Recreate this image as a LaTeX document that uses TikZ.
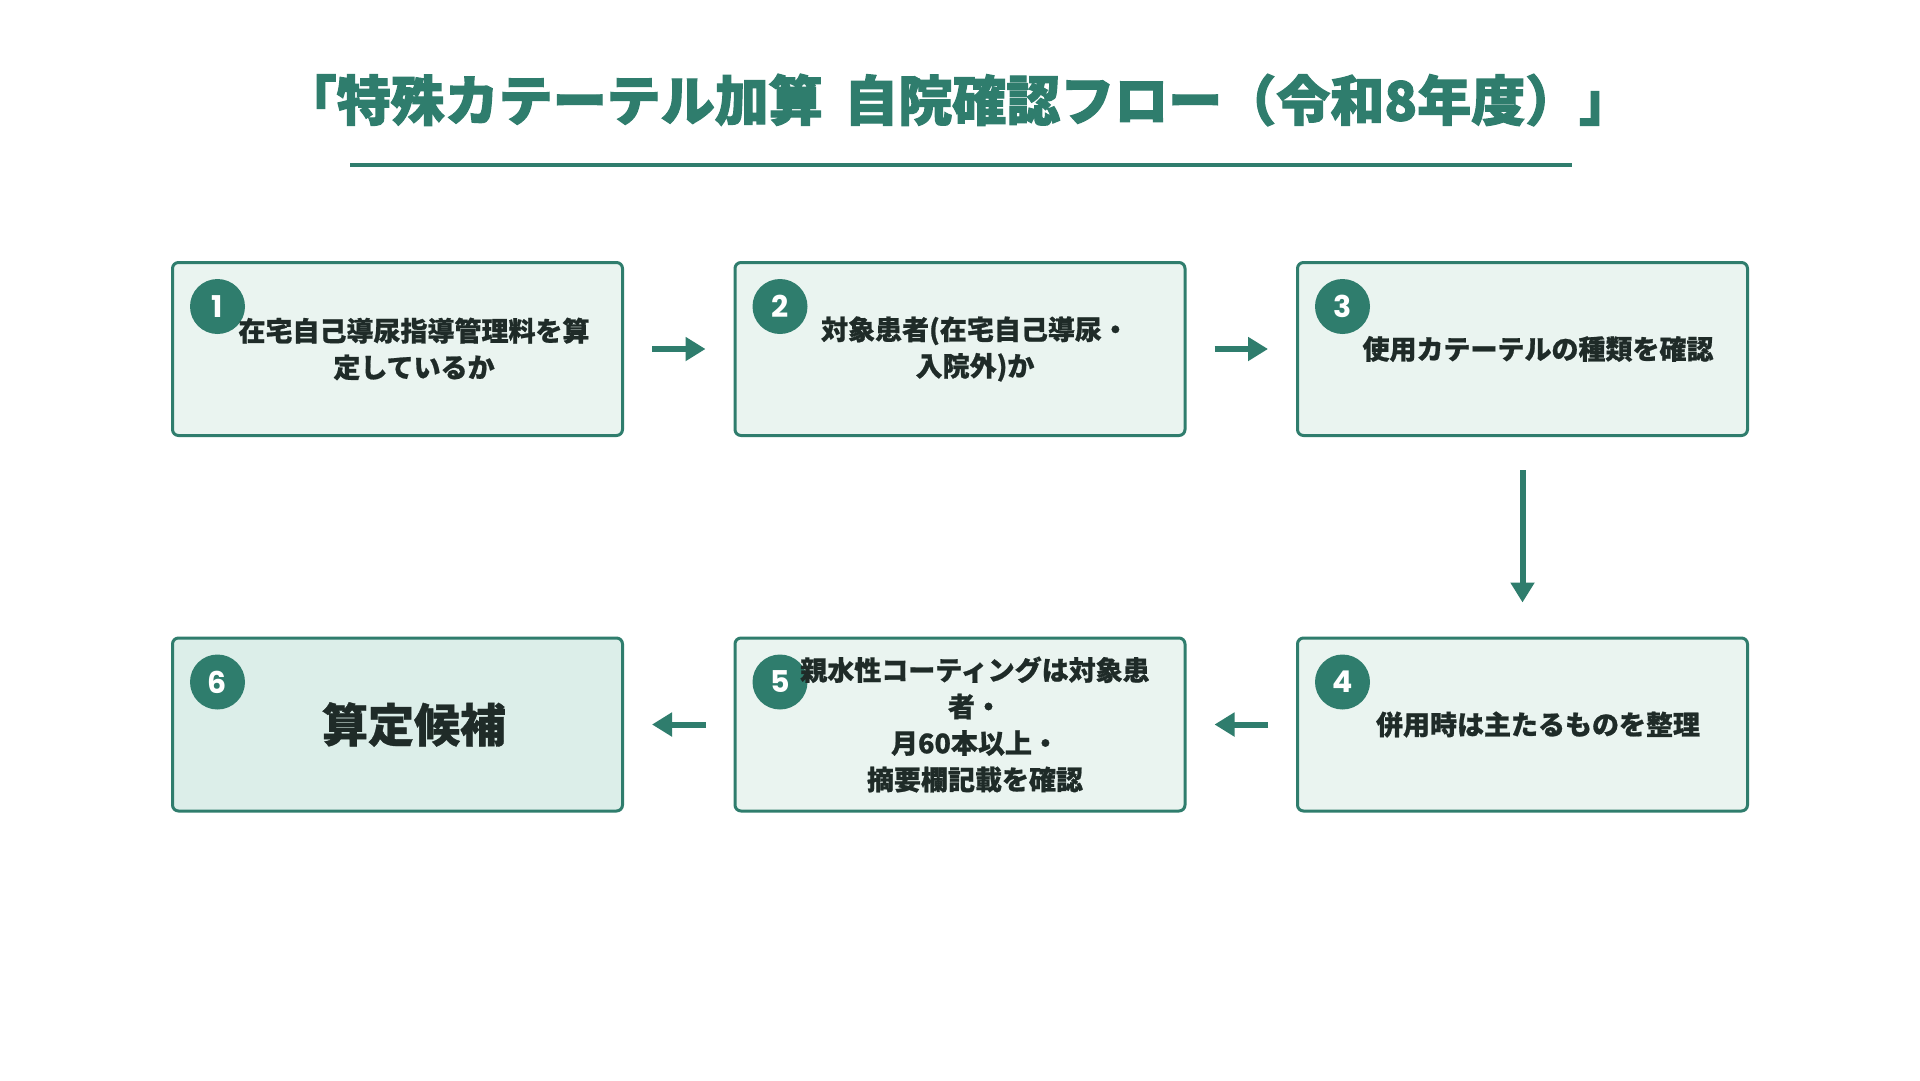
\documentclass[tikz,border=0pt]{standalone}
\usepackage{fontspec}
\newfontfamily\jp{Noto Sans CJK JP}[BoldFeatures={FakeBold=0.8}]
\newfontfamily\jptitle{Noto Sans CJK JP}[BoldFeatures={FakeBold=2}]
\newfontfamily\numfont{Poppins}
\usetikzlibrary{arrows.meta}
\definecolor{tealc}{HTML}{2F7D6D}
\definecolor{boxfill}{HTML}{EAF4F0}
\definecolor{boxfillb}{HTML}{DCEEE9}
\definecolor{txt}{HTML}{1F2B28}
\begin{document}
\begin{tikzpicture}[x=1pt,y=-1pt,
  stepbox/.style={draw=tealc, line width=3pt, rounded corners=6pt, fill=boxfill,
    minimum width=450pt, minimum height=173pt, inner sep=0pt},
  finalbox/.style={stepbox, fill=boxfillb},
  badge/.style={circle, fill=tealc, minimum size=55pt, inner sep=0pt, text=white,
    font=\numfont\bfseries\fontsize{30}{30}\selectfont},
  steptext/.style={text=txt, align=center, inner sep=0pt,
    font=\jp\bfseries\fontsize{27}{36.5}\selectfont},
  bigtext/.style={text=txt, align=center, inner sep=0pt,
    font=\jp\bfseries\fontsize{46}{50}\selectfont},
  conn/.style={draw=tealc, line width=6pt, -{Triangle[length=20pt,width=23pt]},
    shorten <=28pt, shorten >=28pt},
  vconn/.style={conn, shorten <=33pt, shorten >=34pt}
]
\useasboundingbox (0,0) rectangle (1920,1080);
\fill[white] (0,0) rectangle (1920,1080);

% title
\node[text=tealc, inner sep=0pt, font=\jptitle\bfseries\fontsize{54}{60}\selectfont]
  (title) at (958,100) {「特殊カテーテル加算\hspace{0.4em}自院確認フロー（令和8年度）」};
\coordinate (ulA) at (350,165);
\coordinate (ulB) at (1572,165);
\draw[tealc, line width=3.5pt] (ulA) -- (ulB);

% boxes
\node[stepbox] (b1) at (397.5,349) {};
\node[stepbox] (b2) at (960,349) {};
\node[stepbox] (b3) at (1522.5,349) {};
\node[stepbox] (b4) at (1522.5,724.5) {};
\node[stepbox] (b5) at (960,724.5) {};
\node[finalbox] (b6) at (397.5,724.5) {};

% badges
\node[badge] (n1) at (217.5,306.5) {1};
\node[badge] (n2) at (780,306.5) {2};
\node[badge] (n3) at (1342.5,306.5) {3};
\node[badge] (n4) at (1342.5,682) {4};
\node[badge] (n5) at (780,682) {5};
\node[badge] (n6) at (217.5,682) {6};

% texts
\node[steptext] (t1) at (414,349) {在宅自己導尿指導管理料を算\\定しているか};
\node[steptext] (t2) at (975,349) {対象患者(在宅自己導尿・\\入院外)か};
\node[steptext] (t3) at (1538,349) {使用カテーテルの種類を確認};
\node[steptext] (t4) at (1538,724.5) {併用時は主たるものを整理};
\node[steptext] (t5) at (975,724.5) {親水性コーティングは対象患\\者・\\月60本以上・\\摘要欄記載を確認};
\node[bigtext] (t6) at (414,724.5) {算定候補};

% connectors
\draw[conn] (b1) -- (b2);
\draw[conn] (b2) -- (b3);
\draw[vconn] (b3) -- (b4);
\draw[conn] (b4) -- (b5);
\draw[conn] (b5) -- (b6);
\end{tikzpicture}
\end{document}
